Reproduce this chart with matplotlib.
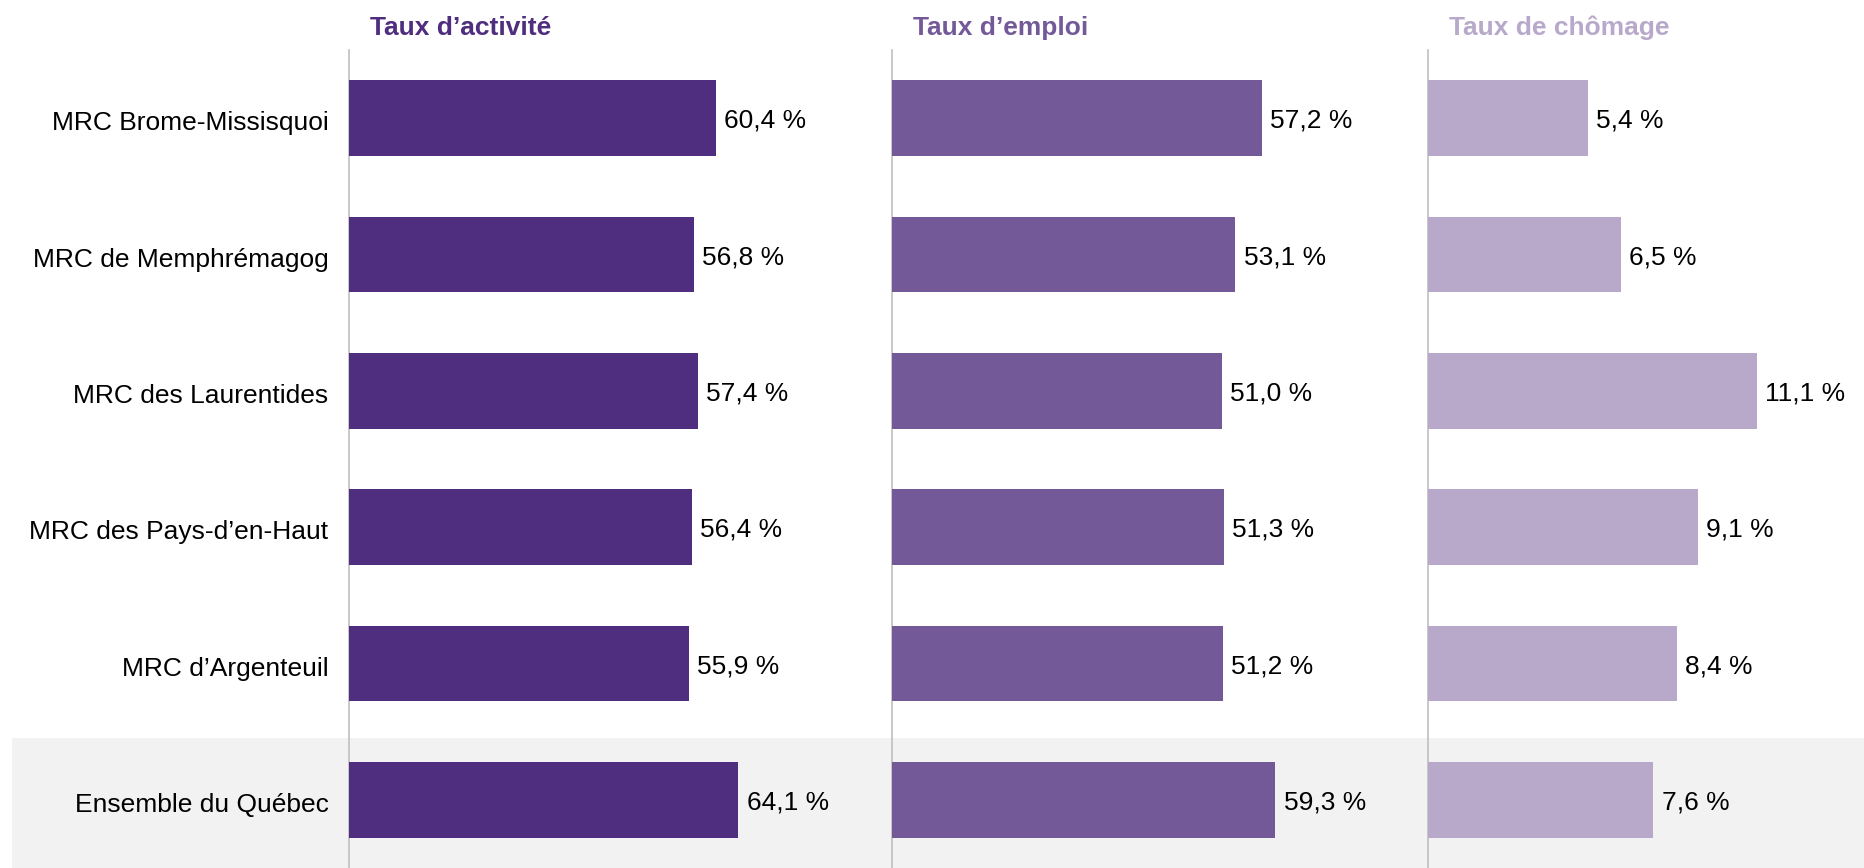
import matplotlib.pyplot as plt
import matplotlib.transforms as mtransforms
from matplotlib.patches import Rectangle

plt.rcParams['font.family'] = ['Liberation Sans', 'DejaVu Sans']

regions = ["MRC Brome-Missisquoi", "MRC de Memphrémagog", "MRC des Laurentides",
           "MRC des Pays-d’en-Haut", "MRC d’Argenteuil", "Ensemble du Québec"]
activite = [60.4, 56.8, 57.4, 56.4, 55.9, 64.1]
emploi = [57.2, 53.1, 51.0, 51.3, 51.2, 59.3]
chomage = [5.4, 6.5, 11.1, 9.1, 8.4, 7.6]

titles = ["Taux d’activité", "Taux d’emploi", "Taux de chômage"]
colors = ["#4F2D7F", "#735997", "#B8A9CB"]

W, H = 1864, 868
fig = plt.figure(figsize=(W / 100, H / 100), dpi=100)

# grey band behind the last row (whole figure width)
fig.patches.append(Rectangle((12 / W, 0), 1 - 12 / W, 1 - 738 / H,
                             transform=fig.transFigure, facecolor="#F2F2F2",
                             edgecolor="none", zorder=-1))

# left edge in px, width in px, x max (data)
panels = [(348.7, 500, 500 / 6.08), (891.7, 500, 500 / 6.47), (1428.3, 435, 435 / 29.6)]
series = [activite, emploi, chomage]

top = 1 - 50 / H
for i, (x0, wpx, xmax) in enumerate(panels):
    ax = fig.add_axes([x0 / W, 0, wpx / W, top])
    ax.set_zorder(1)
    ax.set_facecolor("none")
    ypos = range(len(regions))
    ax.barh(ypos, series[i], height=0.556, color=colors[i], zorder=3)
    for y, v in zip(ypos, series[i]):
        ax.annotate(f"{v:.1f}".replace(".", ",") + " %", xy=(v, y),
                    xytext=(6, -2), textcoords="offset points",
                    va="center", ha="left", fontsize=19, color="black")
    ax.set_xlim(0, xmax)
    ax.set_ylim(len(regions) - 0.5, -0.5)
    for s in ["top", "right", "bottom"]:
        ax.spines[s].set_visible(False)
    ax.spines["left"].set_color("#BFBFBF")
    ax.spines["left"].set_linewidth(1.2)
    ax.set_xticks([])
    ax.tick_params(left=False, pad=11)
    if i == 0:
        ax.set_yticks(list(ypos))
        ax.set_yticklabels(regions, fontsize=19)
        shift = mtransforms.ScaledTranslation(0, -2 / 72, fig.dpi_scale_trans)
        for lab in ax.get_yticklabels():
            lab.set_transform(lab.get_transform() + shift)
    else:
        ax.set_yticks([])
    ax.annotate(titles[i], xy=(0, 1), xycoords="axes fraction",
                xytext=(15, 16), textcoords="offset points",
                ha="left", va="center", fontsize=19, fontweight="bold",
                color=colors[i])

fig.savefig("out.png", dpi=100)
